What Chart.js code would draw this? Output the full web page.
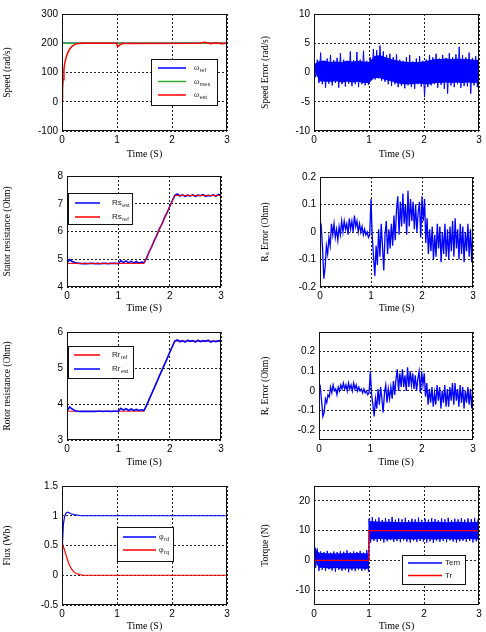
<!DOCTYPE html>
<html><head><meta charset="utf-8">
<script src="https://cdn.jsdelivr.net/npm/chart.js@4/dist/chart.umd.min.js"></script>
<style>
html,body{margin:0;padding:0;background:#fff;overflow:hidden;width:486px;height:632px;position:relative}
canvas{position:absolute}
</style>
</head><body>
<script>
// ---------------- DATA ----------------
const timeTicks = [0, 1, 2, 3];

// (1) Speed
const speedTicks = [-100, 0, 100, 200, 300];
const omegaRefT = [0, 3];
const omegaRefV = [200, 200];
const omegaMesT = [0, 3];
const omegaMesV = [200, 200];
const omegaEstT = [0, 0.01, 0.02, 0.035, 0.05, 0.08, 0.11, 0.14, 0.17, 0.2, 0.25, 0.3, 0.4, 0.995, 1.01, 1.03, 1.06, 1.1, 2.5, 2.6, 2.7, 2.8, 2.9, 3];
const omegaEstV = [3, 45, 75, 110, 132, 155, 170, 180, 187, 192, 197, 199, 200, 200, 188, 191, 195, 199, 200, 203, 198, 202, 198, 200];

// (2) Speed error (sampled every 0.03 s from t=0)
const speedErrTicks = [-10, -5, 0, 5, 10];
const speedErrT0 = 0, speedErrDt = 0.03;
const speedErrV = [
  1.0, -0.8, 2.2, -1.8, 3.4, -2.0, 2.0, -2.6, 2.4, -1.9,
  3.0, -2.2, 2.1, -1.8, 2.5, -2.6, 3.3, -2.0, 2.2, -2.4,
  2.0, -1.9, 3.6, -2.3, 2.1, -2.0, 3.5, -2.5, 2.2, -2.0,
  3.7, -2.2, 2.0, -2.1, 2.6, -0.8, 4.0, -1.2, 3.8, -1.0,
  4.6, -1.4, 3.6, -1.6, 3.0, -2.0, 3.2, -2.3, 2.6, -2.0,
  3.1, -2.5, 2.2, -2.3, 2.0, -2.7, 2.6, -2.2, 3.0, -2.5,
  1.9, -2.8, 2.4, -2.0, 2.8, -2.4, 2.0, -4.2, 2.2, -2.5,
  3.0, -2.2, 2.6, -2.0, 3.2, -2.6, 2.4, -2.1, 3.0, -2.8,
  2.5, -3.6, 3.3, -2.2, 2.6, -2.5, 3.1, -2.0, 4.4, -2.6,
  3.0, -2.3, 2.6, -2.4, 3.4, -3.6, 2.5, -2.2, 2.8, -2.5,
  2.2];
const speedErrEnvT = [0, 0.1, 0.2, 0.3, 0.4, 0.5, 0.6, 0.7, 0.8, 0.9, 1.0, 1.1, 1.2, 1.3, 1.4, 1.5, 1.6, 1.7, 1.8, 1.9, 2.0, 2.1, 2.2, 2.3, 2.4, 2.5, 2.6, 2.7, 2.8, 2.9, 3.0];
const speedErrUp = [1.4, 2.0, 2.0, 1.8, 1.9, 1.8, 2.0, 1.9, 2.0, 1.9, 1.8, 2.8, 3.0, 2.6, 2.3, 2.1, 1.9, 1.8, 1.8, 1.8, 1.9, 2.1, 2.3, 2.3, 2.4, 2.3, 2.4, 2.3, 2.3, 2.2, 2.2];
const speedErrLo = [0.4, -1.5, -1.6, -1.6, -1.5, -1.7, -1.6, -1.7, -1.6, -1.8, -1.8, -0.9, -1.0, -1.3, -1.5, -1.8, -2.0, -2.0, -2.0, -1.9, -2.0, -2.0, -1.8, -1.8, -1.7, -1.8, -1.7, -1.8, -1.7, -1.8, -1.7];

// (3) Stator resistance
const rsTicks = [4, 5, 6, 7, 8];
const rsRefT = [0, 1.5, 2.1, 3];
const rsRefV = [4.85, 4.85, 7.3, 7.3];
const rsEstT0 = 0, rsEstDt = 0.05;
const rsEstV = [
  4.86, 4.99, 4.92, 4.88, 4.86, 4.85, 4.84, 4.85, 4.84, 4.85,
  4.85, 4.84, 4.85, 4.84, 4.85, 4.85, 4.84, 4.85, 4.85, 4.85,
  4.84, 4.95, 4.88, 4.94, 4.87, 4.93, 4.86, 4.92, 4.86, 4.90,
  4.87, 5.04, 5.27, 5.45, 5.68, 5.86, 6.10, 6.27, 6.50, 6.68,
  6.90, 7.10, 7.30, 7.35, 7.28, 7.32, 7.27, 7.31, 7.28, 7.32,
  7.27, 7.31, 7.29, 7.33, 7.27, 7.30, 7.28, 7.32, 7.27, 7.34, 7.30];

// (4) Rs error (sampled every 0.025 s)
const rsErrTicks = [-0.2, -0.1, 0, 0.1, 0.2];
const rsErrT0 = 0, rsErrDt = 0.025;
const rsErrV = [
  0.00, 0.02, -0.06, -0.17, -0.13, -0.05, -0.08, -0.02, -0.05, 0.03,
  -0.01, 0.03, -0.02, 0.01, -0.03, 0.02, -0.01, 0.04, 0.00, 0.04,
  0.01, 0.03, -0.01, 0.05, 0.01, 0.04, 0.00, 0.06, 0.02, 0.04,
  0.00, 0.03, 0.00, 0.02, -0.01, 0.01, -0.01, 0.00, -0.02, -0.01,
  0.12, -0.02, -0.09, -0.16, -0.05, -0.12, 0.01, -0.09, 0.03, -0.05,
  -0.14, -0.01, 0.04, -0.08, 0.01, -0.06, 0.03, -0.05, 0.06, -0.03,
  0.08, 0.13, -0.01, 0.11, 0.02, 0.14, 0.03, 0.10, -0.01, 0.15,
  0.02, 0.12, 0.04, 0.11, 0.01, 0.10, 0.00, 0.07, 0.11, -0.02,
  0.13, 0.04, 0.12, -0.04, 0.05, -0.08, 0.01, -0.07, 0.02, -0.10,
  -0.01, -0.09, 0.03, -0.06, 0.02, -0.11, 0.00, -0.08, 0.03, -0.09,
  0.01, -0.10, 0.02, -0.07, 0.04, -0.09, 0.05, -0.06, 0.01, -0.10,
  0.03, -0.08, 0.02, -0.11, 0.00, -0.07, 0.03, -0.09, 0.01, -0.11,
  0.02];

// (5) Rotor resistance
const rrTicks = [3, 4, 5, 6];
const rrRefT = [0, 1.5, 2.1, 3];
const rrRefV = [3.8, 3.8, 5.75, 5.75];
const rrEstT0 = 0, rrEstDt = 0.05;
const rrEstV = [
  3.80, 3.92, 3.86, 3.82, 3.80, 3.79, 3.80, 3.79, 3.80, 3.79,
  3.80, 3.79, 3.80, 3.80, 3.79, 3.80, 3.80, 3.79, 3.80, 3.80,
  3.80, 3.88, 3.83, 3.87, 3.82, 3.86, 3.82, 3.85, 3.82, 3.84,
  3.82, 3.96, 4.13, 4.29, 4.45, 4.61, 4.78, 4.94, 5.10, 5.26,
  5.43, 5.59, 5.75, 5.78, 5.73, 5.76, 5.72, 5.77, 5.74, 5.76,
  5.72, 5.77, 5.73, 5.76, 5.74, 5.77, 5.72, 5.75, 5.73, 5.76, 5.74];

// (6) Rr error (sampled every 0.025 s)
const rrErrTicks = [-0.2, -0.1, 0, 0.1, 0.2];
const rrErrT0 = 0, rrErrDt = 0.025;
const rrErrV = [
  0.00, 0.02, -0.05, -0.13, -0.11, -0.04, -0.06, -0.02, -0.03, 0.02,
  -0.01, 0.03, 0.00, 0.01, -0.02, 0.02, 0.00, 0.03, 0.01, 0.04,
  0.01, 0.03, 0.00, 0.04, 0.01, 0.03, 0.00, 0.04, 0.01, 0.03,
  0.00, 0.02, 0.00, 0.01, -0.01, 0.01, -0.01, 0.00, -0.02, -0.01,
  0.10, -0.02, -0.07, -0.13, -0.04, -0.09, 0.01, -0.07, 0.02, -0.04,
  -0.11, -0.01, 0.03, -0.06, 0.01, -0.04, 0.02, -0.04, 0.05, -0.02,
  0.06, 0.11, 0.00, 0.09, 0.02, 0.11, 0.02, 0.08, 0.00, 0.12,
  0.02, 0.10, 0.03, 0.09, 0.01, 0.08, 0.00, 0.06, 0.10, -0.01,
  0.10, 0.03, 0.09, -0.03, 0.04, -0.07, 0.01, -0.06, 0.02, -0.08,
  -0.01, -0.07, 0.03, -0.05, 0.02, -0.09, 0.00, -0.06, 0.03, -0.08,
  0.01, -0.08, 0.02, -0.05, 0.04, -0.07, 0.04, -0.05, 0.01, -0.08,
  0.03, -0.06, 0.02, -0.09, 0.00, -0.06, 0.02, -0.07, 0.01, -0.09,
  0.02];

// (7) Flux
const fluxTicks = [-0.5, 0, 0.5, 1, 1.5];
const fluxRdT = [0, 0.01, 0.025, 0.045, 0.07, 0.1, 0.13, 0.17, 0.22, 0.28, 0.35, 3];
const fluxRdV = [0.28, 0.55, 0.85, 0.98, 1.04, 1.06, 1.05, 1.03, 1.02, 1.01, 1.0, 1.0];
const fluxRqT = [0, 0.005, 0.02, 0.04, 0.07, 0.1, 0.13, 0.17, 0.21, 0.26, 0.32, 0.4, 3];
const fluxRqV = [0, 0.52, 0.5, 0.44, 0.35, 0.26, 0.18, 0.11, 0.06, 0.03, 0.01, 0, 0];

// (8) Torque
const torqueTicks = [-10, 0, 10, 20];
const trT = [0, 1, 1, 3];
const trV = [0, 0, 10, 10];
const temLowT0 = 0, temHighT0 = 1.0, temDt = 0.03;
const temLowV = [6.0, -2.5, 4.0, -3.5, 3.0, -3.2, 2.8, -3.6, 3.2, -3.0,
  2.6, -3.4, 3.0, -3.8, 2.8, -3.2, 3.1, -3.5, 2.9, -3.3,
  3.4, -4.0, 2.7, -3.4, 3.0, -3.6, 2.8, -3.1, 3.2, -3.5,
  2.6, -3.3, 3.5, -3.8];
const temHighV = [14.0, 6.0, 14.5, 6.5, 13.8, 6.2, 14.4, 6.6, 13.6, 6.0,
  14.2, 6.4, 13.9, 6.8, 14.6, 6.2, 13.7, 6.5, 14.1, 6.1,
  13.8, 6.7, 14.3, 6.3, 13.5, 6.0, 14.0, 6.6, 13.8, 6.2,
  14.4, 6.5, 13.6, 6.3, 14.0, 6.0, 13.7, 6.4, 14.2, 5.9,
  13.9, 6.6, 13.5, 6.2, 14.1, 6.5, 13.8, 6.1, 14.3, 6.7,
  13.6, 6.3, 14.0, 6.0, 13.8, 6.4, 14.2, 6.6, 13.7, 6.2,
  14.1, 6.5, 13.9, 6.0, 14.3, 6.4, 13.8];
const temEnvT = [0, 0.05, 0.1, 0.2, 0.3, 0.4, 0.5, 0.6, 0.7, 0.8, 0.9, 0.995, 1.005, 1.2, 1.4, 1.6, 1.8, 2.0, 2.2, 2.4, 2.6, 2.8, 3.0];
const temUp = [5.5, 3.2, 2.6, 2.4, 2.4, 2.3, 2.4, 2.5, 2.4, 2.5, 2.4, 2.4, 13.2, 13.0, 13.0, 12.8, 13.0, 12.8, 13.0, 12.8, 13.0, 12.8, 13.0];
const temLo = [0.5, -1.5, -2.5, -2.6, -2.7, -2.6, -2.8, -2.7, -2.8, -2.7, -2.8, -2.8, 7.0, 7.2, 7.0, 7.2, 7.0, 7.2, 7.0, 7.2, 7.0, 7.2, 7.0];

// ---------------- STYLE / LAYOUT ----------------
const BLUE = '#0000ff', RED = '#ff0000', GREEN = '#33aa33';
const SERIF = '"Liberation Serif", "Times New Roman", serif';
const SANS = '"Liberation Sans", Arial, sans-serif';

const pts = (ts, vs) => ts.map((t, i) => ({x: t, y: vs[i]}));
const sampled = (t0, dt, vs) => vs.map((v, i) => ({x: +(t0 + i * dt).toFixed(4), y: v}));
const line = (data, color, w, extra) => Object.assign({data, borderColor: color, borderWidth: w || 1, pointRadius: 0, fill: false, tension: 0}, extra || {});

const framePlugin = {
  id: 'matlabFrame',
  afterDatasetsDraw(chart, args, opts) {
    const {ctx, chartArea: a} = chart;
    ctx.save();
    ctx.strokeStyle = '#111'; ctx.lineWidth = 1; ctx.setLineDash([]);
    ctx.strokeRect(Math.round(a.left) + 0.5, Math.round(a.top) + 0.5, Math.round(a.right - a.left) - 1, Math.round(a.bottom - a.top) - 1);
    const lg = opts.legend;
    if (lg) {
      const bx = Math.round(a.left + lg.box[0]), by = Math.round(a.top + lg.box[1]);
      ctx.fillStyle = '#fff';
      ctx.fillRect(bx, by, lg.box[2], lg.box[3]);
      ctx.strokeStyle = '#111';
      ctx.strokeRect(bx + 0.5, by + 0.5, lg.box[2], lg.box[3]);
      lg.items.forEach(it => {
        ctx.strokeStyle = it.color; ctx.lineWidth = 1.5;
        ctx.beginPath(); ctx.moveTo(bx + lg.line[0], by + it.y); ctx.lineTo(bx + lg.line[1], by + it.y); ctx.stroke();
        ctx.fillStyle = '#222'; ctx.textBaseline = 'middle'; ctx.textAlign = 'left';
        ctx.font = '8px ' + (it.serif ? SERIF : SANS);
        ctx.fillText(it.label, bx + lg.textX, by + it.y);
        if (it.sub) {
          const w = ctx.measureText(it.label).width;
          ctx.font = '5.5px ' + SANS;
          ctx.fillText(it.sub, bx + lg.textX + w + 0.5, by + it.y + 2.5);
        }
      });
    }
    ctx.restore();
  }
};

function makeChart(L, yMin, yMax, yTicks, yTitle, datasets, legend) {
  const c = document.createElement('canvas');
  c.width = L.w; c.height = L.h;
  c.style.left = L.left + 'px'; c.style.top = L.top + 'px';
  c.style.width = L.w + 'px'; c.style.height = L.h + 'px';
  document.body.appendChild(c);
  const grid = {color: '#222', lineWidth: 1, drawTicks: false};
  const border = {display: false, dash: [2, 2]};
  new Chart(c, {
    type: 'line',
    data: {datasets},
    plugins: [framePlugin],
    options: {
      responsive: false, animation: false, devicePixelRatio: 1, events: [],
      layout: {padding: {top: L.padTop, right: L.padRight, left: 0, bottom: 0}},
      plugins: {legend: {display: false}, tooltip: {enabled: false}, matlabFrame: {legend}},
      scales: {
        x: {
          type: 'linear', min: 0, max: 3,
          afterBuildTicks: s => { s.ticks = timeTicks.map(v => ({value: v})); },
          afterFit: s => { s.height = L.xh; },
          ticks: {autoSkip: false, maxRotation: 0, padding: 3, color: '#000', font: {family: SANS, size: 10}, callback: v => String(v)},
          grid, border,
          title: {display: true, text: 'Time (S)', color: '#000', font: {family: SERIF, size: 10}, padding: {top: 0, bottom: 0}}
        },
        y: {
          type: 'linear', min: yMin, max: yMax,
          afterBuildTicks: s => { s.ticks = yTicks.map(v => ({value: v})); },
          afterFit: s => { s.width = L.yw; },
          ticks: {autoSkip: false, padding: 4, color: '#000', font: {family: SANS, size: 10}, callback: v => String(v)},
          grid, border,
          title: {display: true, text: yTitle, color: '#000', font: {family: SERIF, size: 9.5}, padding: {top: L.titlePad, bottom: 0}}
        }
      }
    }
  });
}

const LAYOUT = [
  {left: 0,   top: 4,   w: 235, h: 156, yw: 62, xh: 29, padTop: 10, padRight: 8, titlePad: 1.3},
  {left: 250, top: 4,   w: 235, h: 156, yw: 64, xh: 29, padTop: 10, padRight: 6, titlePad: 9.3},
  {left: 0,   top: 166, w: 229, h: 148, yw: 67, xh: 27, padTop: 10, padRight: 8, titlePad: 1.3},
  {left: 250, top: 167, w: 231, h: 147, yw: 70, xh: 27, padTop: 10, padRight: 8, titlePad: 9.3},
  {left: 0,   top: 322, w: 229, h: 146, yw: 67, xh: 28, padTop: 10, padRight: 8, titlePad: 1.3},
  {left: 250, top: 322, w: 231, h: 146, yw: 69, xh: 28, padTop: 10, padRight: 8, titlePad: 9.3},
  {left: 0,   top: 476, w: 235, h: 156, yw: 62, xh: 27, padTop: 10, padRight: 8, titlePad: 1.3},
  {left: 250, top: 476, w: 235, h: 156, yw: 64, xh: 27, padTop: 10, padRight: 6, titlePad: 9.3}
];

// (1) Speed
makeChart(LAYOUT[0], -100, 300, speedTicks, 'Speed (rad/s)', [
  line(pts(omegaEstT, omegaEstV), RED, 1.5),
  line(pts(omegaMesT, omegaMesV), GREEN, 1.5),
  line(pts(omegaRefT, omegaRefV), BLUE, 1.5)
], {box: [89, 45, 66, 46], line: [7, 35], textX: 43, items: [
  {label: 'ω', sub: 'ref', color: BLUE, y: 9, serif: true},
  {label: 'ω', sub: 'mes', color: GREEN, y: 22.5, serif: true},
  {label: 'ω', sub: 'est', color: RED, y: 36, serif: true}]});

// (2) Speed error
makeChart(LAYOUT[1], -10, 10, speedErrTicks, 'Speed Error (rad/s)', [
  line(sampled(speedErrT0, speedErrDt, speedErrV), BLUE, 1),
  line(pts(speedErrEnvT, speedErrUp), 'rgba(0,0,0,0)', 1, {fill: '+1', backgroundColor: BLUE}),
  line(pts(speedErrEnvT, speedErrLo), 'rgba(0,0,0,0)', 1)
], null);

// (3) Stator resistance
makeChart(LAYOUT[2], 4, 8, rsTicks, 'Stator resistance (Ohm)', [
  line(pts(rsRefT, rsRefV), RED, 1),
  line(sampled(rsEstT0, rsEstDt, rsEstV), BLUE, 1.6)
], {box: [1, 17, 64, 31], line: [7, 32], textX: 44, items: [
  {label: 'Rs', sub: 'est', color: BLUE, y: 10},
  {label: 'Rs', sub: 'ref', color: RED, y: 24}]});

// (4) Rs error
makeChart(LAYOUT[3], -0.2, 0.2, rsErrTicks, 'Rₛ Error (Ohm)', [
  line(sampled(rsErrT0, rsErrDt, rsErrV), BLUE, 1.3)
], null);

// (5) Rotor resistance
makeChart(LAYOUT[4], 3, 6, rrTicks, 'Rotor resistance (Ohm)', [
  line(sampled(rrEstT0, rrEstDt, rrEstV), BLUE, 1.6),
  line(pts(rrRefT, rrRefV), RED, 1)
], {box: [1, 14, 65, 32], line: [6, 32], textX: 44, items: [
  {label: 'Rr', sub: 'ref', color: RED, y: 9},
  {label: 'Rr', sub: 'est', color: BLUE, y: 23}]});

// (6) Rr error
makeChart(LAYOUT[5], -0.25, 0.3, rrErrTicks, 'Rᵣ Error (Ohm)', [
  line(sampled(rrErrT0, rrErrDt, rrErrV), BLUE, 1.3)
], null);

// (7) Flux
makeChart(LAYOUT[6], -0.5, 1.5, fluxTicks, 'Flux (Wb)', [
  line(pts(fluxRqT, fluxRqV), RED, 1.2),
  line(pts(fluxRdT, fluxRdV), BLUE, 1.2)
], {box: [55, 41, 56, 34], line: [6, 39], textX: 42, items: [
  {label: 'φ', sub: 'rd', color: BLUE, y: 10, serif: true},
  {label: 'φ', sub: 'rq', color: RED, y: 23, serif: true}]});

// (8) Torque
makeChart(LAYOUT[7], -15, 25, torqueTicks, 'Torque (N)', [
  line(pts(trT, trV), RED, 1.2),
  line(sampled(temLowT0, temDt, temLowV).concat(sampled(temHighT0, temDt, temHighV)), BLUE, 1),
  line(pts(temEnvT, temUp), 'rgba(0,0,0,0)', 1, {fill: '+1', backgroundColor: BLUE}),
  line(pts(temEnvT, temLo), 'rgba(0,0,0,0)', 1)
], {box: [88, 69, 63, 29], line: [6, 40], textX: 43, items: [
  {label: 'Tem', color: BLUE, y: 8},
  {label: 'Tr', color: RED, y: 20.5}]});
</script>
</body></html>
